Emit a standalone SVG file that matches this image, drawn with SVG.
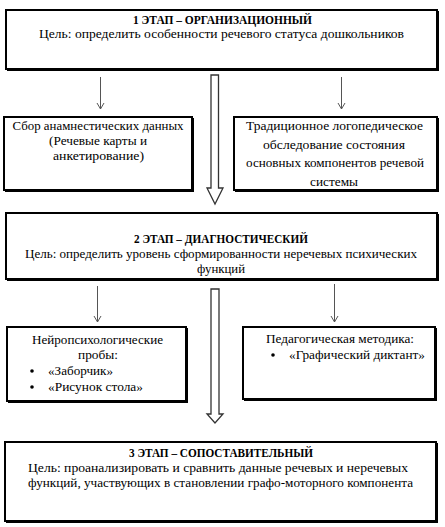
<svg xmlns="http://www.w3.org/2000/svg" width="445" height="527" viewBox="0 0 445 527" font-family="'Liberation Serif', 'Times New Roman', serif" font-size="13">
<defs>
<style>
.b{font-weight:bold;font-size:12px;}
.m{text-anchor:middle;}
.box{fill:#fff;stroke:#000;stroke-width:2;}
.sh{fill:#000;}
.thin{stroke:#555;stroke-width:1;fill:none;}
.hollow{fill:#fff;stroke:#333;stroke-width:1.3;}
.ah{fill:none;stroke:#555;stroke-width:1;}
</style>
</defs>
<rect width="445" height="527" fill="#fff"/>
<g id="connectors">
<line class="thin" x1="100.5" y1="77" x2="100.5" y2="109"/>
<path class="ah" d="M97,103 L100.5,109 L104,103"/>
<line class="thin" x1="341.5" y1="77" x2="341.5" y2="109"/>
<path class="ah" d="M338,103 L341.5,109 L345,103"/>
<line class="thin" x1="97.5" y1="286" x2="97.5" y2="322"/>
<path class="ah" d="M94,316 L97.5,322 L101,316"/>
<line class="thin" x1="334.5" y1="284" x2="334.5" y2="322"/>
<path class="ah" d="M331,316 L334.5,322 L338,316"/>
<path class="hollow" d="M211,75 H218.5 V188 H223 L215,204 L207,188 H211 Z"/>
<path class="hollow" d="M211,289 H219 V414 H223 L215,423 L207,414 H211 Z"/>
</g>
<g id="stage1">
<rect class="sh" x="7" y="11" width="432" height="60"/>
<rect class="box" x="6" y="10" width="431" height="59"/>
<text class="b m" x="222.5" y="24" textLength="179" lengthAdjust="spacingAndGlyphs">1 ЭТАП – ОРГАНИЗАЦИОННЫЙ</text>
<text class="m" x="221.5" y="38" textLength="365" lengthAdjust="spacingAndGlyphs">Цель: определить особенности речевого статуса дошкольников</text>
</g>
<g id="anamnesis">
<rect class="sh" x="5" y="118" width="189" height="74"/>
<rect class="box" x="4" y="117" width="188" height="73"/>
<text class="m" x="98" y="130" textLength="171" lengthAdjust="spacingAndGlyphs">Сбор анамнестических данных</text>
<text class="m" x="98" y="145" textLength="98" lengthAdjust="spacingAndGlyphs">(Речевые карты и</text>
<text class="m" x="98.5" y="160" textLength="91" lengthAdjust="spacingAndGlyphs">анкетирование)</text>
</g>
<g id="speech-exam">
<rect class="sh" x="235" y="118" width="204" height="74"/>
<rect class="box" x="234" y="117" width="203" height="73"/>
<text class="m" x="334.5" y="130" textLength="177" lengthAdjust="spacingAndGlyphs">Традиционное логопедическое</text>
<text class="m" x="334" y="149" textLength="142" lengthAdjust="spacingAndGlyphs">обследование состояния</text>
<text class="m" x="335" y="167" textLength="178" lengthAdjust="spacingAndGlyphs">основных компонентов речевой</text>
<text class="m" x="334" y="186" textLength="48" lengthAdjust="spacingAndGlyphs">системы</text>
</g>
<g id="stage2">
<rect class="sh" x="7" y="214" width="432" height="67"/>
<rect class="box" x="6" y="213" width="431" height="66"/>
<text class="b m" x="221" y="243" textLength="174" lengthAdjust="spacingAndGlyphs">2 ЭТАП – ДИАГНОСТИЧЕСКИЙ</text>
<text class="m" x="221" y="258" textLength="392" lengthAdjust="spacingAndGlyphs">Цель: определить уровень сформированности неречевых психических</text>
<text class="m" x="221" y="273" textLength="48" lengthAdjust="spacingAndGlyphs">функций</text>
</g>
<g id="neuro">
<rect class="sh" x="8" y="328" width="180" height="75"/>
<rect class="box" x="7" y="327" width="179" height="74"/>
<text class="m" x="97.5" y="344" textLength="131" lengthAdjust="spacingAndGlyphs">Нейропсихологические</text>
<text class="m" x="98" y="359" textLength="40" lengthAdjust="spacingAndGlyphs">пробы:</text>
<circle cx="32" cy="371" r="1.8"/>
<text x="48" y="375" textLength="65" lengthAdjust="spacingAndGlyphs">«Заборчик»</text>
<circle cx="32" cy="387" r="1.8"/>
<text x="48" y="391" textLength="95" lengthAdjust="spacingAndGlyphs">«Рисунок стола»</text>
</g>
<g id="pedagogic">
<rect class="sh" x="244" y="328" width="193" height="73"/>
<rect class="box" x="243" y="327" width="192" height="72"/>
<text class="m" x="340" y="343" textLength="148" lengthAdjust="spacingAndGlyphs">Педагогическая методика:</text>
<circle cx="273" cy="355" r="1.8"/>
<text x="289" y="359" textLength="136" lengthAdjust="spacingAndGlyphs">«Графический диктант»</text>
</g>
<g id="stage3">
<rect class="sh" x="6" y="443" width="432" height="80"/>
<rect class="box" x="5" y="442" width="431" height="79"/>
<text class="b m" x="221" y="457" textLength="184" lengthAdjust="spacingAndGlyphs">3 ЭТАП – СОПОСТАВИТЕЛЬНЫЙ</text>
<text class="m" x="218" y="472" textLength="380" lengthAdjust="spacingAndGlyphs">Цель: проанализировать и сравнить данные речевых и неречевых</text>
<text class="m" x="220.5" y="487" textLength="385" lengthAdjust="spacingAndGlyphs">функций, участвующих в становлении графо-моторного компонента</text>
</g>
</svg>
